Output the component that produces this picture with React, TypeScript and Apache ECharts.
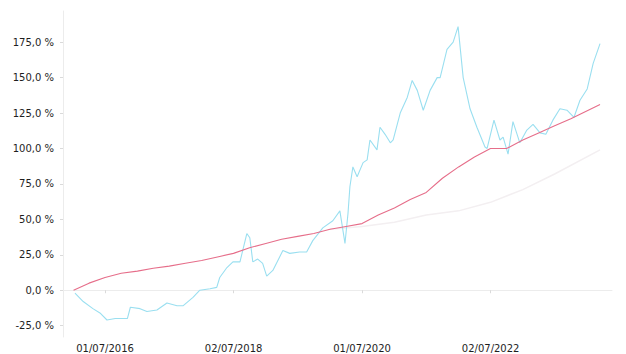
import React, { useEffect, useRef } from "react";
import * as echarts from "echarts";

// Cyan series (daily-like performance)
const cyanDates = [
  "2016-01-12","2016-02-28","2016-04-23","2016-06-02","2016-07-12","2016-08-28","2016-11-05","2016-11-22",
  "2017-01-16","2017-02-24","2017-04-22","2017-06-18","2017-08-14","2017-09-17","2017-11-13","2017-12-22",
  "2018-02-18","2018-03-28","2018-04-14","2018-05-25","2018-06-28","2018-08-07","2018-09-15","2018-10-02",
  "2018-10-19","2018-11-16","2018-12-14","2019-01-06","2019-02-10","2019-04-08","2019-05-17","2019-07-12",
  "2019-08-21","2019-09-25","2019-11-21","2020-01-17","2020-02-26","2020-03-26","2020-04-12","2020-04-23",
  "2020-05-10","2020-06-03","2020-07-07","2020-07-30","2020-08-15","2020-09-24","2020-10-11","2020-11-09",
  "2020-12-09","2020-12-25","2021-02-03","2021-03-15","2021-04-12","2021-05-11","2021-06-14","2021-07-23",
  "2021-09-01","2021-09-18","2021-10-27","2021-12-01","2021-12-29","2022-01-27","2022-03-07","2022-04-15",
  "2022-05-31","2022-06-12","2022-07-21","2022-08-24","2022-09-11","2022-10-09","2022-11-06","2022-12-15",
  "2023-01-24","2023-02-28","2023-04-09","2023-05-12","2023-06-21","2023-07-31","2023-09-09","2023-10-19",
  "2023-11-22","2024-01-02","2024-02-05","2024-03-15",
];
const cyanValues = [
  -2, -8, -13, -16, -21, -20, -20, -12,
  -13, -15, -14, -9, -11, -11, -5, 0,
  1, 2, 9, 16, 20, 20, 40, 37,
  20, 22, 19, 10, 14, 28, 26, 27,
  27, 35, 44, 49, 56, 33, 54, 73,
  87, 80, 90, 92, 106, 99, 115, 110,
  104, 106, 125, 136, 148, 141, 127, 141,
  150, 150, 170, 175, 186, 150, 128, 115,
  101, 100, 120, 106, 108, 96, 119, 104,
  113, 117, 111, 110, 120, 128, 127, 122,
  134, 142, 160, 174,
];

// Red series (smooth benchmark)
const redDates = [
  "2016-01-04","2016-04-01","2016-07-01","2016-10-01","2017-01-01","2017-04-01","2017-07-01","2017-10-01",
  "2018-01-01","2018-04-01","2018-07-01","2018-10-01","2019-01-01","2019-04-01","2019-07-01","2019-10-01",
  "2020-01-01","2020-04-01","2020-07-01","2020-10-01","2021-01-01","2021-04-01","2021-07-01","2021-10-01",
  "2022-01-01","2022-04-01","2022-07-01","2022-10-01","2023-01-01","2023-04-01","2023-07-01","2023-10-01",
  "2024-03-15",
];
const redValues = [
  0, 5, 9, 12, 13.5, 15.5, 17, 19,
  21, 23.5, 26, 30, 33, 36, 38, 40,
  43, 45, 47, 53, 58, 64, 69, 79,
  87, 94, 100, 100, 106, 111, 116, 121,
  131,
];

// Faint grey series
const greyDates = [
  "2020-01-01","2020-07-01","2021-01-01","2021-07-01","2022-01-01","2022-07-01","2023-01-01","2023-07-01","2024-03-15",
];
const greyValues = [43, 45, 48, 53, 56, 62, 71, 82, 99];

// Axis ticks
const yTicks = [-25, 0, 25, 50, 75, 100, 125, 150, 175];
const xTickDates = ["2016-07-01", "2018-07-02", "2020-07-01", "2022-07-02"];
const xTickLabels = ["01/07/2016", "02/07/2018", "01/07/2020", "02/07/2022"];

const toTs = (s: string) => {
  const [y, m, d] = s.split("-").map(Number);
  return Date.UTC(y, m - 1, d);
};

export default function App() {
  const ref = useRef<HTMLDivElement>(null);
  useEffect(() => {
    document.body.style.margin = "0";
    const chart = echarts.init(ref.current!, null, { renderer: "svg" });
    const xTickTs = xTickDates.map(toTs);
    const font = "DejaVu Sans";
    chart.setOption({
      animation: false,
      backgroundColor: "#ffffff",
      grid: { left: 63, right: 14, top: 11, bottom: 17, outerBoundsMode: "none" },
      xAxis: {
        type: "value",
        scale: true,
        min: toTs("2015-11-05"),
        max: toTs("2024-05-22"),
        axisLine: { show: true, lineStyle: { color: "#ececec", width: 1 } },
        axisTick: { show: true, customValues: xTickTs, length: 3, lineStyle: { color: "#dadada" } },
        splitLine: { show: false },
        axisLabel: {
          customValues: xTickTs,
          margin: 6,
          fontFamily: font,
          fontSize: 10,
          color: "#1e1e1e",
          formatter: (v: number) => {
            let best = 0;
            xTickTs.forEach((t, i) => {
              if (Math.abs(t - v) < Math.abs(xTickTs[best] - v)) best = i;
            });
            return xTickLabels[best];
          },
        },
      },
      yAxis: {
        type: "value",
        min: -33,
        max: 197,
        axisLine: { show: true, lineStyle: { color: "#ececec", width: 1 } },
        axisTick: { show: true, customValues: yTicks, length: 3, lineStyle: { color: "#dadada" } },
        splitLine: { show: false },
        axisLabel: {
          customValues: yTicks,
          margin: 9,
          fontFamily: font,
          fontSize: 10,
          color: "#1e1e1e",
          formatter: (v: number) => v.toFixed(1).replace(".", ",") + " %",
        },
      },
      series: [
        {
          type: "line",
          name: "grey",
          showSymbol: false,
          data: greyDates.map((d, i) => [toTs(d), greyValues[i]]),
          lineStyle: { color: "#f3eff1", width: 1.5 },
          z: 1,
        },
        {
          type: "line",
          name: "fund",
          showSymbol: false,
          data: cyanDates.map((d, i) => [toTs(d), cyanValues[i]]),
          lineStyle: { color: "#9adff0", width: 1.1 },
          z: 2,
        },
        {
          type: "line",
          name: "benchmark",
          showSymbol: false,
          data: redDates.map((d, i) => [toTs(d), redValues[i]]),
          lineStyle: { color: "#e66e8a", width: 1.1 },
          z: 3,
        },
      ],
    });
    return () => chart.dispose();
  }, []);
  return (
    <div
      ref={ref}
      style={{ position: "fixed", left: 0, top: 0, width: 626, height: 354 }}
    />
  );
}
